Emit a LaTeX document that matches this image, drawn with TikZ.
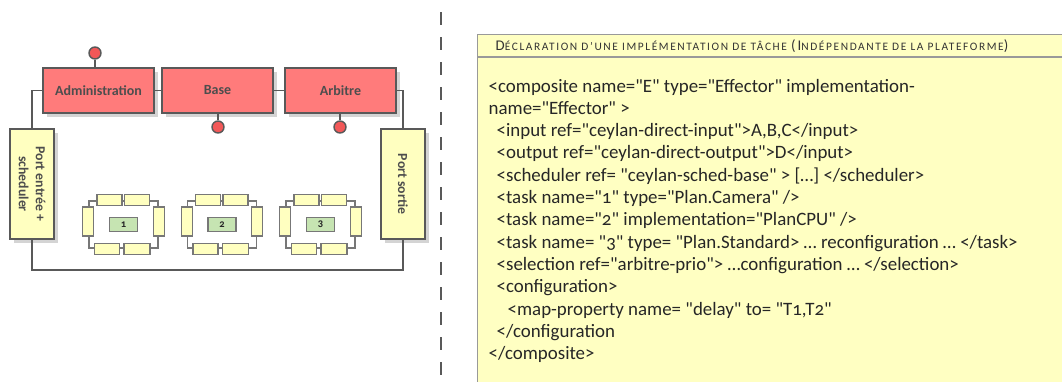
\documentclass[tikz,border=0pt]{standalone}
\usepackage{fontspec}
\newfontfamily\diagfont{Carlito}[Numbers=OldStyle]
\newfontfamily\headfont{Carlito}[LetterSpace=14]
\usetikzlibrary{shadows}
\definecolor{boxred}{HTML}{FF7B7B}
\definecolor{pinred}{HTML}{F25858}
\definecolor{portyellow}{HTML}{FFFFC0}
\definecolor{coregreen}{HTML}{C6E4B2}
\definecolor{edge}{HTML}{595959}
\definecolor{thinedge}{HTML}{777777}
\definecolor{labelgray}{HTML}{4D4D4D}
\definecolor{panelyellow}{HTML}{FFFFC2}
\newcommand\capletter[1]{{\fontsize{14.8}{14.8}\selectfont #1}}

\begin{document}
\begin{tikzpicture}[x=1pt,y=-1pt,line width=1.4pt,
  shade/.style={drop shadow={shadow xshift=4pt,shadow yshift=-4pt,fill=black!17,opacity=1}},
  comp/.style={draw=edge,fill=boxred,minimum width=111pt,minimum height=45pt,inner sep=0pt,
    font=\diagfont\bfseries\fontsize{14}{14}\selectfont,text=labelgray,shade},
  pin/.style={circle,draw=edge,fill=pinred,minimum size=12pt,inner sep=0pt},
  bigport/.style={draw=edge,fill=portyellow,minimum width=44pt,minimum height=110pt,inner sep=0pt,shade},
  portlabel/.style={rotate=-90,align=center,text=labelgray,inner sep=0pt,
    font=\diagfont\bfseries\fontsize{13.8}{17}\selectfont},
  wire/.style={draw=edge,line width=1.4pt},
  frame/.style={draw=thinedge,line width=1.2pt,minimum width=69pt,minimum height=47pt,inner sep=0pt},
  tport/.style={draw=thinedge,fill=portyellow,line width=1.1pt,minimum height=11pt,inner sep=0pt},
  vport/.style={draw=thinedge,fill=portyellow,line width=1.1pt,minimum width=11pt,minimum height=29pt,inner sep=0pt},
  core/.style={draw=thinedge,fill=coregreen,line width=1.1pt,minimum width=28pt,minimum height=14pt,inner sep=0pt,
    font=\diagfont\bfseries\fontsize{10.5}{10.5}\selectfont,text=black!85},
  panel/.style={draw=black!40,fill=panelyellow,line width=1.3pt,inner sep=0pt},
  head/.style={inner sep=0pt,text=black!80,font=\headfont\fontsize{11.4}{12}\selectfont},
  code/.style={anchor=base west,inner sep=0pt,text=black!85,font=\diagfont\fontsize{18.9}{22}\selectfont}]
\useasboundingbox (0,0) rectangle (1062,381);

% separator
\draw[edge,line width=1.5pt,dash pattern=on 13pt off 12pt] (441,12) -- (441,381);

% composite
\node[comp] (adm) at (98.5,90.5) {Administration};
\node[comp] (base) at (217.5,90.5) {Base};
\node[comp] (arb) at (340.5,90.5) {Arbitre};
\node[bigport] (portin) at (32,184) {};
\node[bigport] (portout) at (403,184) {};
\node[portlabel] (portinlabel) at (portin) {Port entrée +\\scheduler};
\node[portlabel] (portoutlabel) at (portout) {Port sortie};

\node[pin] (admpin) at (95,53) {};
\node[pin] (basepin) at (218,127) {};
\node[pin] (arbpin) at (340,127) {};
\draw[wire] (admpin) -- (admpin |- adm.north);
\draw[wire] (basepin) -- (basepin |- base.south);
\draw[wire] (arbpin) -- (arbpin |- arb.south);

\coordinate (loop) at (0,270);
\draw[wire] (adm.west) -| (portin.north);
\draw[wire] (adm.east) -- (base.west);
\draw[wire] (base.east) -- (arb.west);
\draw[wire] (arb.east) -| (portout.north);
\draw[wire] (portin.south) -- (portin.south |- loop) -| (portout.south);

% tasks
\foreach \i/\cx in {1/123.5,2/222,3/320.5} {
  \node[frame] (task\i) at (\cx,224.5) {};
  \node[tport,minimum width=25pt] (task\i n1) at ([xshift=-14pt]task\i.north) {};
  \node[tport,minimum width=25pt] (task\i n2) at ([xshift=13.5pt]task\i.north) {};
  \node[tport,minimum width=25pt] (task\i s1) at ([xshift=-16.5pt]task\i.south) {};
  \node[tport,minimum width=26pt] (task\i s2) at ([xshift=13.5pt]task\i.south) {};
  \node[vport] (task\i w) at ([yshift=3pt]task\i.west) {};
  \node[vport] (task\i e) at ([yshift=3pt]task\i.east) {};
  \node[core] (task\i c) at (task\i) {\i};
}

% declaration
\node[panel,anchor=north west,minimum width=620pt,minimum height=370pt] (decl) at (477,34) {};
\draw[draw=black!40,line width=1.2pt] ([yshift=-23pt]decl.north west) -- ([yshift=-23pt]decl.north east);
\node[head,anchor=base west] (title) at (495,50)
  {\capletter{D}ÉCLARATION D’UNE IMPLÉMENTATION DE TÂCHE \capletter{(I}NDÉPENDANTE DE LA PLATEFORME\capletter{)}};
\foreach \txt [count=\n] in {
  {<composite name="E" type="Effector" implementation-},
  {name="Effector" >},
  {\hspace*{8pt}<input ref="ceylan-direct-input">A,B,C</input>},
  {\hspace*{8pt}<output ref="ceylan-direct-output">D</input>},
  {\hspace*{8pt}<scheduler ref= "ceylan-sched-base" > […] </scheduler>},
  {\hspace*{8pt}<task name="1" type="Plan.Camera" />},
  {\hspace*{8pt}<task name="2" implementation="PlanCPU" />},
  {\hspace*{8pt}<task name= "3" type= "Plan.Standard> … reconfiguration … </task>},
  {\hspace*{8pt}<selection ref="arbitre-prio"> …configuration … </selection>},
  {\hspace*{8pt}<configuration>},
  {\hspace*{19pt}<map-property name= "delay" to= "T1,T2"},
  {\hspace*{8pt}</configuration},
  {</composite>}}
  \node[code] (line\n) at (488,69.67+22.33*\n) {\txt};
\end{tikzpicture}
\end{document}
